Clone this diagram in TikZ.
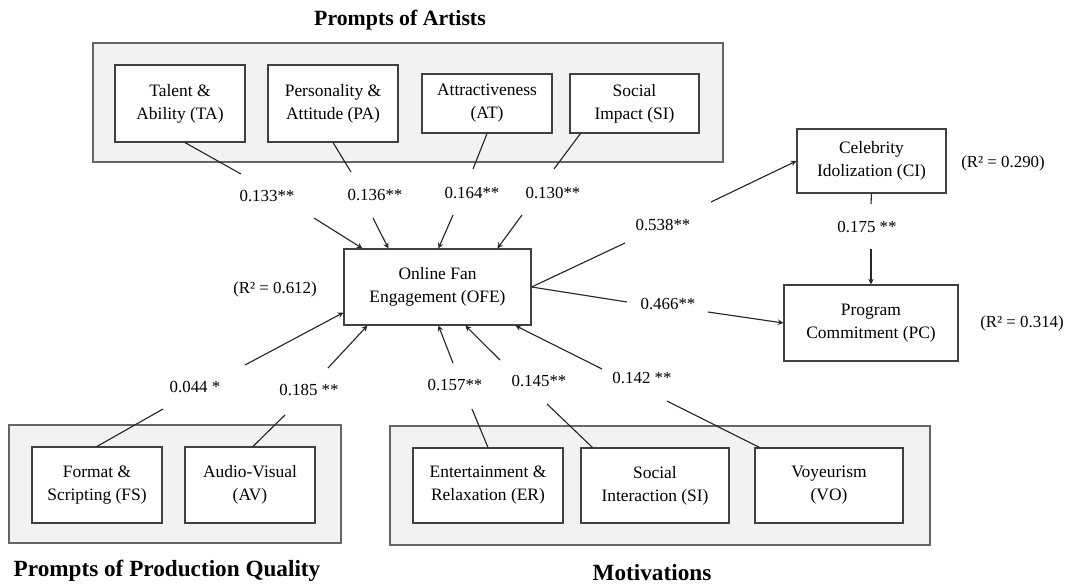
\documentclass[tikz,border=0pt]{standalone}
\usepackage{fontspec}
\setmainfont{Liberation Serif}
\usetikzlibrary{calc}

\newcommand{\boxfont}{\fontsize{12.4}{16.4}\selectfont}
\newcommand{\coeffont}{\fontsize{12}{14}\selectfont}
\newcommand{\headfont}{\fontsize{15.5}{18}\selectfont\bfseries}
\newcommand{\footfont}{\fontsize{16.5}{19}\selectfont\bfseries}

\begin{document}
\begin{tikzpicture}[x=0.025cm, y=-0.025cm,
  construct/.style={draw=black!75, fill=white, line width=0.8pt, align=center, font=\boxfont, inner sep=0pt},
  group/.style={draw=black!60, fill=black!5, line width=0.9pt},
  coef/.style={font=\coeffont, inner sep=0pt},
  link/.style={black!85, line width=0.8pt},
  effect/.style={link, ->, >=stealth}]

\useasboundingbox (0,0) rectangle (1074,587);

% Draw groups.
\draw[group] (93,43) rectangle (723,162);
\draw[group] (9,425) rectangle (341,543);
\draw[group] (390,426) rectangle (930,545);

\node[font=\headfont] (artists) at (400,20) {Prompts of Artists};
\node[font=\footfont] (quality) at (167,571) {Prompts of Production Quality};
\node[font=\footfont] (motives) at (652,573) {Motivations};

% Draw constructs.
\node[construct, minimum width=3.25cm, minimum height=1.925cm] (TA) at (180,103.5) {Talent \&\\Ability (TA)};
\node[construct, minimum width=3.25cm, minimum height=1.925cm] (PA) at (333,103.5) {Personality \&\\Attitude (PA)};
\node[construct, minimum width=3.25cm, minimum height=1.475cm] (AT) at (487,103.5) {Attractiveness\\(AT)};
\node[construct, minimum width=3.225cm, minimum height=1.475cm] (SIa) at (634.5,103.5) {Social\\Impact (SI)};

\node[construct, minimum width=4.675cm, minimum height=1.9cm] (OFE) at (437.5,287) {Online Fan\\Engagement (OFE)};
\node[construct, minimum width=3.725cm, minimum height=1.6cm] (CI) at (871.5,161) {Celebrity\\Idolization (CI)};
\node[construct, minimum width=4.35cm, minimum height=1.9cm] (PC) at (871,323) {Program\\Commitment (PC)};

\node[construct, minimum width=3.25cm, minimum height=1.9cm] (FS) at (97,485) {Format \&\\Scripting (FS)};
\node[construct, minimum width=3.25cm, minimum height=1.9cm] (AV) at (250,485) {Audio-Visual\\(AV)};

\node[construct, minimum width=3.75cm, minimum height=1.875cm] (ER) at (488,485.5) {Entertainment \&\\Relaxation (ER)};
\node[construct, minimum width=3.7cm, minimum height=1.875cm] (SIm) at (655,485.5) {Social\\Interaction (SI)};
\node[construct, minimum width=3.7cm, minimum height=1.875cm] (VO) at (829,485.5) {Voyeurism\\(VO)};

% Draw path coefficients.
\node[coef] (c133) at (267,196) {0.133**};
\node[coef] (c136) at (375,195) {0.136**};
\node[coef] (c164) at (472,193) {0.164**};
\node[coef] (c130) at (553,193) {0.130**};
\node[coef] (c044) at (195,387) {0.044 *};
\node[coef] (c185) at (309,390) {0.185 **};
\node[coef] (c157) at (455,385) {0.157**};
\node[coef] (c145) at (539,381) {0.145**};
\node[coef] (c142) at (642,378) {0.142 **};
\node[coef] (c538) at (663,225) {0.538**};
\node[coef] (c466) at (668,304) {0.466**};
\node[coef] (c175) at (867,227) {0.175 **};

\node[coef] (r612) at (275,289) {(R² = 0.612)};
\node[coef] (r290) at (1003,163) {(R² = 0.290)};
\node[coef] (r314) at (1022,323) {(R² = 0.314)};

% Break points round the coefficients.
\coordinate (ta1) at (241,174); \coordinate (ta2) at (314,218);
\coordinate (pa1) at (351,172); \coordinate (pa2) at (373,218);
\coordinate (at1) at (473,169); \coordinate (at2) at (453,215);
\coordinate (si1) at (554,169); \coordinate (si2) at (522,215);
\coordinate (fs1) at (163,409); \coordinate (fs2) at (245,365);
\coordinate (av1) at (285,415); \coordinate (av2) at (328,368);
\coordinate (er1) at (472,409); \coordinate (er2) at (453,363);
\coordinate (sm1) at (547,404); \coordinate (sm2) at (500,360);
\coordinate (vo1) at (667,401); \coordinate (vo2) at (602,369);
\coordinate (ci1) at (625,243); \coordinate (ci2) at (711,202);
\coordinate (pc1) at (627,302); \coordinate (pc2) at (708,312);
\coordinate (cp1) at (871,204); \coordinate (cp2) at (871,249);

% Draw paths.
\draw[link] ($(TA.south)+(5,0)$) -- (ta1);
\draw[effect] (ta2) -- ($(OFE.north west)+(19,0)$);
\draw[link] (PA.south) -- (pa1);
\draw[effect] (pa2) -- ($(OFE.north west)+(45,0)$);
\draw[link] (AT.south) -- (at1);
\draw[effect] (at2) -- ($(OFE.north west)+(95,0)$);
\draw[link] ($(SIa.south west)+(11,0)$) -- (si1);
\draw[effect] (si2) -- ($(OFE.north west)+(154,0)$);

\draw[link] (FS.north) -- (fs1);
\draw[effect] (fs2) -- ($(OFE.south west)+(0,-13)$);
\draw[link] ($(AV.north)+(3,0)$) -- (av1);
\draw[effect] (av2) -- ($(OFE.south west)+(24,0)$);

\draw[link] (ER.north) -- (er1);
\draw[effect] (er2) -- ($(OFE.south west)+(95,0)$);
\draw[link] ($(SIm.north west)+(12,0)$) -- (sm1);
\draw[effect] (sm2) -- ($(OFE.south west)+(122,0)$);
\draw[link] ($(VO.north west)+(5,0)$) -- (vo1);
\draw[effect] (vo2) -- ($(OFE.south west)+(172,0)$);

\draw[link] (OFE.east) -- (ci1);
\draw[effect] (ci2) -- (CI.west);
\draw[link] (OFE.east) -- (pc1);
\draw[effect] (pc2) -- (PC.west);
\draw[link] (CI.south) -- (cp1);
\draw[effect] (cp2) -- (PC.north);

\end{tikzpicture}
\end{document}
